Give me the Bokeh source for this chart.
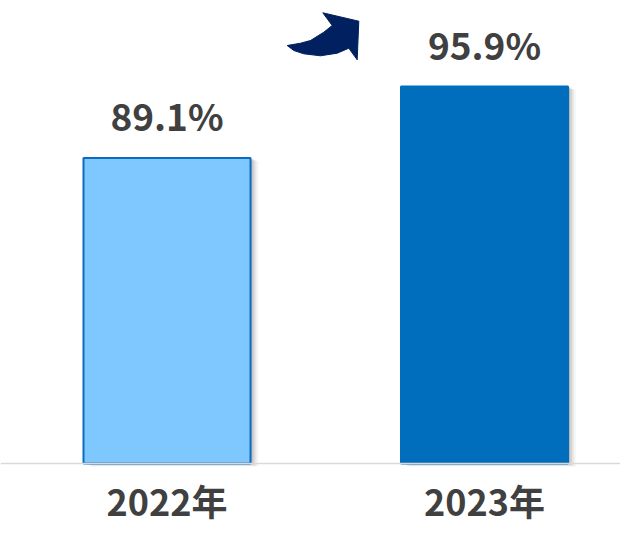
from bokeh.plotting import figure
from bokeh.models import Range1d, Span
from bokeh.core.properties import value
from bokeh.embed import file_html
from bokeh.resources import INLINE

# ---- data ----
categories = ["2022年", "2023年"]
rates = [89.1, 95.9]
rate_labels = ["89.1%", "95.9%"]
positions = [0, 1]
fills = ["#7FC7FF", "#006EBD"]
outlines = ["#0A6CC0", "#006EBD"]

BASE = 60.0
W, H = 620, 524
BASELINE_PX = 463              # baseline position in canvas px (from top)
KX = 317.5                     # px per x unit
KY = 10.5                      # px per y unit
x_start = -166.5 / KX
x_end = x_start + W / KX
y_end = BASE + BASELINE_PX / KY
y_start = BASE - (H - BASELINE_PX) / KY

FONT = "Noto Sans CJK SC"
TXT = "#404040"

p = figure(width=W, height=H, output_backend="svg", toolbar_location=None,
           x_range=Range1d(x_start, x_end), y_range=Range1d(y_start, y_end),
           min_border=0, outline_line_color=None)
p.axis.visible = False
p.grid.visible = False
p.background_fill_color = "white"
p.border_fill_color = "white"

bw = 167 / KX

# soft shadow (right/bottom)
for i, a in zip([2, 4, 6, 8], [0.30, 0.20, 0.12, 0.06]):
    dx = i / KX
    dy = (i * 0.4) / KY
    p.quad(left=[x + dx - bw / 2 for x in positions],
           right=[x + dx + bw / 2 for x in positions],
           bottom=[BASE - dy] * 2, top=[r - dy for r in rates],
           fill_color="#7F7F7F", fill_alpha=a, line_color=None)

# baseline
p.add_layout(Span(location=BASE, dimension="width", line_color="#D9D9D9", line_width=1.5))

# bars
p.vbar(x=positions, width=bw, bottom=BASE, top=rates,
       fill_color=fills, line_color=outlines, line_width=2)

# value labels
p.text(x=positions, y=rates, text=rate_labels, y_offset=-43,
       text_align="center", text_baseline="middle",
       text_font=value(FONT), text_font_style="bold", text_font_size="37px",
       text_color=TXT)

# category labels
p.text(x=positions, y=[BASE] * 2, text=categories, y_offset=36,
       text_align="center", text_baseline="middle",
       text_font=value(FONT), text_font_style="bold", text_font_size="36px",
       text_color=TXT)

# decorative curved arrow (canvas px -> data)
arrow_px = [(286.7, 45), (300, 42.7), (310, 40), (323.3, 31.7), (331.7, 25),
            (322.3, 12.3), (358.3, 20.7), (356.7, 59.3), (348.3, 47.7),
            (336.7, 52.7), (320, 55.3), (303.3, 53.3), (293.3, 50)]
ax = [x_start + px / KX for px, py in arrow_px]
ay = [y_end - py / KY for px, py in arrow_px]
p.patch(ax, ay, fill_color="#002060", line_color="#002060", line_width=1)

open("out.html", "w").write(file_html(p, INLINE))
